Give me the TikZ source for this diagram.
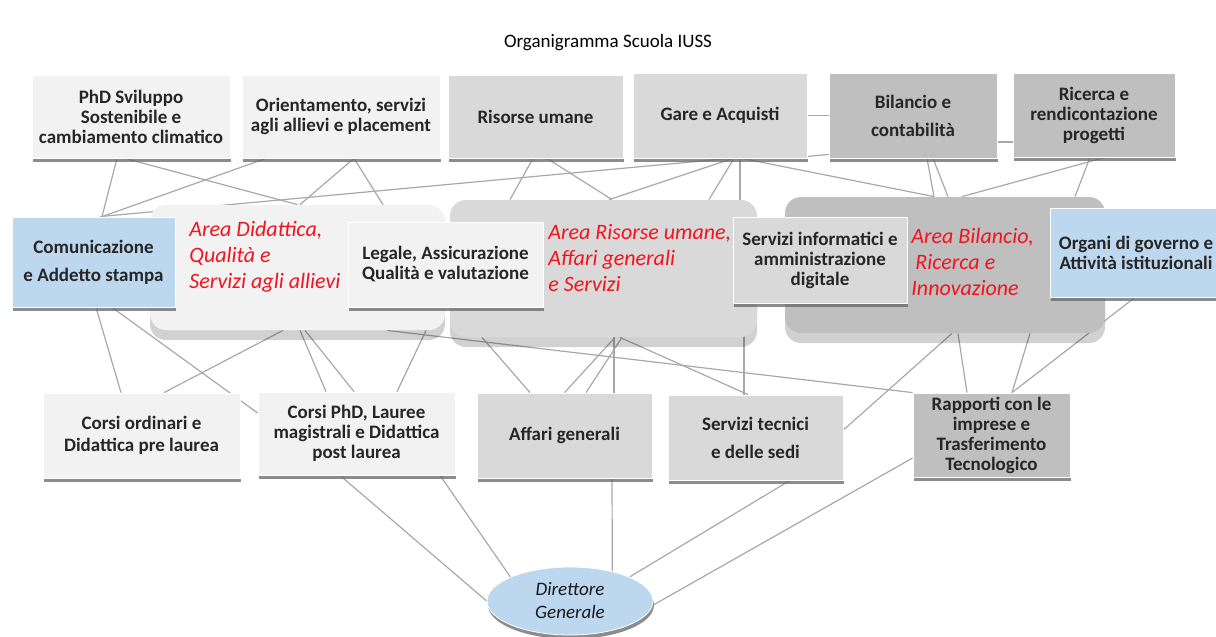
\documentclass[tikz,border=0pt]{standalone}
\usepackage{fontspec}
\setmainfont{Carlito}
\usetikzlibrary{shadows,backgrounds,shapes.geometric}
\definecolor{boxlight}{HTML}{F2F2F2}
\definecolor{boxmid}{HTML}{D9D9D9}
\definecolor{boxdark}{HTML}{BFBFBF}
\definecolor{boxblue}{HTML}{BDD7EE}
\definecolor{areared}{HTML}{F0141E}
\definecolor{linkgray}{HTML}{A8A8A8}

\tikzset{
  unit/.style={draw=white, line width=0.4pt, align=center, text=black!85,
    font=\bfseries\fontsize{9.5}{10}\selectfont, inner sep=1pt,
    drop shadow={shadow xshift=0.5pt, shadow yshift=-2pt, fill=black!60, opacity=0.75}},
  area/.style={rounded corners=8pt, draw=none,
    drop shadow={shadow xshift=0pt, shadow yshift=-5pt, fill=black, opacity=0.18}},
  arealabel/.style={text=areared, align=left, anchor=west, inner sep=0pt,
    font=\itshape\fontsize{11}{13}\selectfont},
  link/.style={draw=linkgray, line width=0.6pt},
}

\begin{document}
\begin{tikzpicture}[x=0.5pt,y=-0.5pt]
\useasboundingbox (0,0) rectangle (1216,637);

\node[font=\fontsize{9.5}{11}\selectfont] (title) at (608,43) {Organigramma Scuola IUSS};

% top row
\begin{scope}[every node/.style={unit}]
    \node[fill=boxlight, minimum width=99pt, minimum height=41.5pt] (phd) at (131,116.5) {PhD Sviluppo\\Sostenibile e\\cambiamento climatico};
    \node[fill=boxlight, minimum width=99pt, minimum height=41.5pt] (orient) at (341,116.5) {Orientamento, servizi\\agli allievi e placement};
    \node[fill=boxmid, minimum width=87.5pt, minimum height=41.5pt] (risorse) at (535.5,116.5) {Risorse umane};
    \node[fill=boxmid, minimum width=87pt, minimum height=42.5pt] (gare) at (720,115.5) {Gare e Acquisti};
    \node[fill=boxdark, minimum width=84pt, minimum height=42.5pt] (bilancio) at (913,115.5) {Bilancio e\\[4pt]contabilità};
    \node[fill=boxdark, minimum width=81pt, minimum height=42pt] (ricerca) at (1094,115) {Ricerca e\\rendicontazione\\progetti};
\end{scope}

% areas
\begin{scope}[every node/.style={area}]
    \node[fill=boxlight, minimum width=147.5pt, minimum height=62.5pt] (grpdid) at (297.5,267.5) {};
    \node[fill=boxmid, minimum width=153.5pt, minimum height=68.5pt] (grpris) at (603.5,268.5) {};
    \node[fill=boxdark, minimum width=160pt, minimum height=68pt] (grpbil) at (945,265) {};
\end{scope}

% middle row
\begin{scope}[every node/.style={unit}]
    \node[fill=boxblue, minimum width=81.5pt, minimum height=45pt] (comunic) at (93.5,262) {Comunicazione\\[4pt]e Addetto stampa};
    \node[fill=boxlight, minimum width=97.5pt, minimum height=42.5pt] (legale) at (445.5,264.5) {Legale, Assicurazione\\Qualità e valutazione};
    \node[fill=boxmid, minimum width=87pt, minimum height=43pt] (servinf) at (820,260) {Servizi informatici e\\amministrazione\\digitale};
    \node[fill=boxblue, minimum width=86pt, minimum height=44.5pt] (organi) at (1136,252.5) {Organi di governo e\\Attività istituzionali};
\end{scope}

\node[arealabel] (lbldid) at (189,257) {Area Didattica,\\Qualità e\\Servizi agli allievi};
\node[arealabel] (lblris) at (548,258) {Area Risorse umane,\\Affari generali\\e Servizi};
\node[arealabel] (lblbil) at (911,262) {Area Bilancio,\\\hspace{2pt}Ricerca e\\Innovazione};

% bottom row
\begin{scope}[every node/.style={unit}]
    \node[fill=boxlight, minimum width=98.5pt, minimum height=42.5pt] (corsiord) at (141.5,435.5) {Corsi ordinari e\\[1pt]Didattica pre laurea};
    \node[fill=boxlight, minimum width=98.5pt, minimum height=41.5pt] (corsiphd) at (356.5,433.5) {Corsi PhD, Lauree\\magistrali e Didattica\\post laurea};
    \node[fill=boxmid, minimum width=87.5pt, minimum height=42.5pt] (affari) at (564.5,435.5) {Affari generali};
    \node[fill=boxmid, minimum width=87.5pt, minimum height=42.5pt] (servtec) at (755.5,437.5) {Servizi tecnici\\[4pt]e delle sedi};
    \node[fill=boxdark, minimum width=78.5pt, minimum height=42pt] (rapporti) at (991.5,435) {Rapporti con le\\imprese e\\Trasferimento\\Tecnologico};
\end{scope}

\node[unit, ellipse, fill=boxblue, inner sep=0pt, minimum width=83pt, minimum height=34pt, text=black!90,
      font=\itshape\fontsize{9.5}{11.5}\selectfont] (dir) at (570,601) {Direttore\\Generale};

\begin{scope}[on background layer, every path/.style={link}]
    % top row to areas
    \draw ([xshift=-7pt]phd.south) -- ([xshift=4.25pt]comunic.north);
    \draw ([xshift=-3pt]phd.south) -- (grpdid.north);
    \draw ([xshift=-37.5pt]orient.south) -- ([xshift=4.25pt]comunic.north);
    \draw ([xshift=6.5pt]orient.south) -- ([xshift=1.25pt]grpdid.north);
    \draw ([xshift=6.5pt]orient.south) -- ([xshift=42.75pt]grpdid.north);
    \draw ([xshift=-1.25pt]risorse.south) -- ([xshift=-46.75pt]grpris.north);
    \draw ([xshift=5.75pt]risorse.south) -- ([xshift=4.25pt]grpris.north);
    \draw ([xshift=5pt]gare.south) -- ([xshift=3.25pt]comunic.north);
    \draw ([xshift=6.5pt]gare.south) -- ([xshift=2.75pt]grpris.north);
    \draw ([xshift=7pt]gare.south) -- ([xshift=52.75pt]grpris.north);
    \draw ([xshift=10pt]gare.south) -- ([xshift=-40pt]servinf.north);
    \draw ([xshift=11pt]gare.south) -- ([xshift=-5.5pt]grpbil.north);
    \draw (gare.east) -- (bilancio.west);
    \draw ([yshift=1pt]gare.south east) -- ([yshift=2pt]bilancio.south west);
    \draw ([xshift=7pt]bilancio.south) -- ([xshift=-5.5pt]grpbil.north);
    \draw ([xshift=10pt]bilancio.south) -- ([xshift=1.5pt]grpbil.north);
    \draw ([yshift=-13.25pt]bilancio.east) -- ([yshift=-13.5pt]ricerca.west);
    \draw ([xshift=-2pt]ricerca.south) -- ([xshift=65pt]grpbil.north);
    \draw ([xshift=5.5pt]ricerca.south) -- ([xshift=8.5pt]grpbil.north);
    % areas to bottom row
    \draw ([xshift=1.25pt]comunic.south) -- ([xshift=-10.25pt]corsiord.north);
    \draw ([xshift=9.25pt]comunic.south) -- ([yshift=10.25pt]corsiphd.west);
    \draw ([xshift=-7.25pt]grpdid.south) -- ([xshift=11.25pt]corsiord.north);
    \draw ([xshift=1.25pt]grpdid.south) -- ([xshift=-15.25pt]corsiphd.north);
    \draw ([xshift=3.75pt]grpdid.south) -- ([xshift=-1.25pt]corsiphd.north);
    \draw ([xshift=-4.25pt]legale.south) -- ([xshift=20.25pt]corsiphd.north);
    \draw ([xshift=44.75pt]grpdid.south) -- (rapporti.north west);
    \draw ([xshift=-60.75pt]grpris.south) -- ([xshift=-17.25pt]affari.north);
    \draw ([xshift=5.75pt]grpris.south) -- (affari.north);
    \draw ([xshift=9.25pt]grpris.south) -- ([xshift=10.75pt]affari.north);
    \draw ([xshift=5.25pt]grpris.south) -- ([xshift=24.75pt]affari.north);
    \draw ([xshift=8.25pt]grpris.south) -- ([xshift=-3.75pt]servtec.north);
    \draw ([xshift=-38pt]servinf.south) -- ([xshift=-5.75pt]servtec.north);
    \draw ([xshift=3.5pt]grpbil.south) -- ([yshift=3.75pt]servtec.east);
    \draw ([xshift=6.5pt]grpbil.south) -- ([xshift=-12.25pt]rapporti.north);
    \draw ([xshift=42.5pt]grpbil.south) -- ([xshift=10.25pt]rapporti.north);
    \draw ([xshift=-0.5pt]organi.south) -- ([xshift=10.25pt]rapporti.north);
    % bottom row to direttore
    \draw ([xshift=-8.25pt]corsiphd.south) -- (dir.180);
    \draw ([xshift=41.75pt]corsiphd.south) -- (dir.158);
    \draw ([xshift=23.75pt]affari.south) -- (dir.35);
    \draw ([xshift=17.25pt]servtec.south) -- (dir.22);
    \draw ([yshift=-11.5pt]rapporti.west) -- (dir.-3);
\end{scope}

\end{tikzpicture}
\end{document}
